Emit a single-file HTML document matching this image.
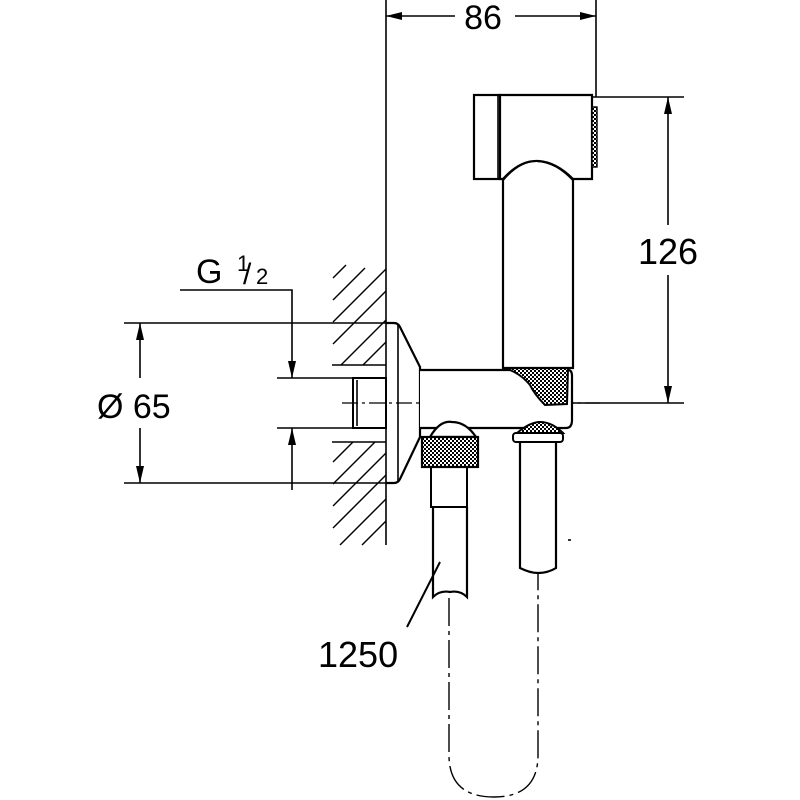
<!DOCTYPE html>
<html><head><meta charset="utf-8"><style>html,body{margin:0;padding:0;background:#fff}svg{display:block}</style></head>
<body>
<svg width="800" height="800" viewBox="0 0 800 800" xmlns="http://www.w3.org/2000/svg" font-family="Liberation Sans, sans-serif">
<defs>
<pattern id="kn" width="4" height="4" patternUnits="userSpaceOnUse"><rect width="4" height="4" fill="#fff"/><rect width="2" height="2" fill="#000"/><rect x="2" y="2" width="2" height="2" fill="#000"/></pattern>
</defs>
<g stroke="#000" fill="none" stroke-width="1.6">
<!-- 86 dimension -->
<line x1="386" y1="0" x2="386" y2="545"/>
<line x1="596" y1="0" x2="596" y2="97"/>
<line x1="386" y1="16" x2="455" y2="16"/>
<line x1="515" y1="16" x2="596" y2="16"/>
<!-- 126 dimension -->
<line x1="592" y1="97" x2="684" y2="97"/>
<line x1="570" y1="403" x2="684" y2="403"/>
<line x1="668" y1="225" x2="668" y2="97"/>
<line x1="668" y1="275" x2="668" y2="403"/>
<!-- Ø65 -->
<line x1="124" y1="323" x2="386" y2="323"/>
<line x1="124" y1="483" x2="386" y2="483"/>
<line x1="140" y1="378" x2="140" y2="323"/>
<line x1="140" y1="428" x2="140" y2="483"/>
<!-- G1/2 -->
<polyline points="180,290 292,290 292,378" />
<line x1="292" y1="490" x2="292" y2="428"/>
<line x1="277" y1="378" x2="353" y2="378"/>
<line x1="277" y1="428" x2="353" y2="428"/>
<!-- hatching -->
<line x1="332" y1="365" x2="386" y2="365"/>
<line x1="332" y1="442" x2="386" y2="442"/>
<g stroke-width="1.4">
<line x1="333" y1="278" x2="346" y2="265"/>
<line x1="333" y1="300" x2="365" y2="268"/>
<line x1="333" y1="322" x2="386" y2="269"/>
<line x1="333" y1="344" x2="386" y2="291"/>
<line x1="341" y1="365" x2="386" y2="320"/>
<line x1="363" y1="365" x2="386" y2="342"/>
<line x1="333" y1="462" x2="353" y2="442"/>
<line x1="333" y1="484" x2="375" y2="442"/>
<line x1="333" y1="506" x2="386" y2="453"/>
<line x1="333" y1="528" x2="386" y2="475"/>
<line x1="340" y1="545" x2="386" y2="499"/>
<line x1="362" y1="545" x2="386" y2="521"/>
</g>
<!-- nipple -->
<rect x="353" y="378" width="33" height="50" stroke-width="2"/>
<line x1="357" y1="380" x2="357" y2="426"/>
<line x1="342" y1="403" x2="600" y2="403" stroke-dasharray="16,4,3,4" stroke-width="1.3"/>
<!-- flange -->
<path d="M386,323 L394,323 Q398,323 400,327 L420,367 L420,437 L400,479 Q398,483 394,483 L386,483" stroke-width="2.2"/>
<line x1="398" y1="325" x2="398" y2="481"/>
<!-- body -->
<path d="M420,370 L568,370 Q572,370 572,376 L572,420 Q572,428 566,428 L420,428" stroke-width="2.2" fill="#fff"/>
<!-- knurl under handle -->
<path d="M510,368 L568,368 L567,404 L545,405 Q535,395 530,385 Q522,375 510,370 Z" fill="url(#kn)" stroke-width="2"/>
<!-- handle -->
<path d="M503,368 L503,180 Q520,160 538,161 Q556,162 573,180 L573,368 Z" stroke-width="2.2" fill="#fff"/>
<!-- head -->
<rect x="474" y="95" width="26" height="84" stroke-width="2.2" fill="#fff"/>
<line x1="498" y1="96" x2="498" y2="178"/>
<path d="M500,95 L592,95 L592,179 L573,179 Q556,162 538,161 Q520,160 503,179 L500,179 Z" stroke-width="2.2" fill="#fff"/>
<rect x="592" y="107" width="5" height="60" stroke-width="1.4" fill="url(#kn)"/>
<!-- left nut -->
<path d="M430,437 Q440,420 452,422 Q466,422 476,437 Z" stroke-width="2.2" fill="#fff"/>
<rect x="422" y="437" width="56" height="30" fill="url(#kn)" stroke-width="2.2"/>
<!-- left hose -->
<rect x="431" y="467" width="36" height="40" stroke-width="2"/>
<path d="M433,507 L433,597 Q440,590 450,592 Q460,590 467,597 L467,507" stroke-width="2.2"/>
<!-- right nut -->
<path d="M517,433 Q530,422 540,422 Q552,422 563,433 Z" fill="url(#kn)" stroke-width="2"/>
<rect x="513" y="433" width="50" height="9" rx="3" stroke-width="2" fill="#fff"/>
<!-- right pipe -->
<path d="M520,442 L520,568 Q530,573 538,573 Q548,573 556,568 L556,442" stroke-width="2.2"/>
<!-- U hose centerline -->
<path d="M449,598 L449,755 Q449,797 494,797 Q538,797 538,755 L538,573" stroke-dasharray="28,5,4,5" stroke-width="1.4"/>
<line x1="568" y1="540" x2="571" y2="540"/>
<!-- 1250 leader -->
<line x1="407" y1="627" x2="440" y2="562" stroke-width="2"/>
</g>
<g fill="#000" stroke="none">
<!-- arrowheads -->
<polygon points="386,16 402,12 402,20"/>
<polygon points="596,16 580,12 580,20"/>
<polygon points="668,97 664,114 672,114"/>
<polygon points="668,403 664,386 672,386"/>
<polygon points="140,323 136,340 144,340"/>
<polygon points="140,483 136,466 144,466"/>
<polygon points="292,378 288,361 296,361"/>
<polygon points="292,428 288,445 296,445"/>
</g>
<g fill="#000">
<text x="483" y="29" font-size="34" text-anchor="middle">86</text>
<text x="668" y="264" font-size="36" text-anchor="middle">126</text>
<text x="97" y="418" font-size="34">Ø 65</text>
<text x="196" y="283" font-size="34">G</text>
<text x="237" y="271" font-size="22">1</text>
<text x="243" y="284" font-size="30">/</text>
<text x="256" y="284" font-size="22">2</text>
<text x="318" y="667" font-size="36">1250</text>
</g>
</svg>
</body></html>
